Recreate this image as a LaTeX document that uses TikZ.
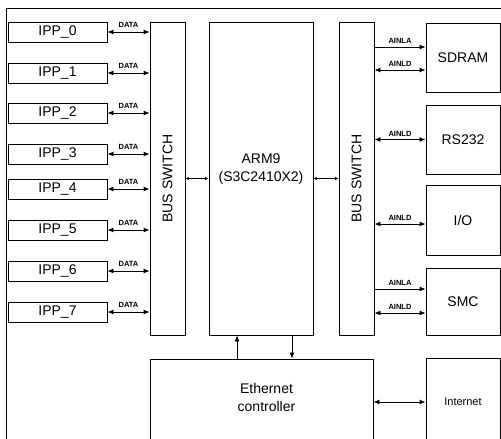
\documentclass[tikz,border=0pt]{standalone}
\usepackage{fontspec}
\setmainfont{Liberation Sans}
\usetikzlibrary{arrows.meta,positioning,calc}

\tikzset{
  blk/.style={draw,line width=0.9pt,inner sep=0pt,font=\fontsize{14}{18}\selectfont},
  txt/.style={inner sep=0pt,align=center,font=\fontsize{14}{18}\selectfont},
  tag/.style={inner sep=1pt,font=\fontsize{7.5}{8}\selectfont\bfseries},
  dbl/.style={{Latex[length=6pt,width=5pt]}-{Latex[length=6pt,width=5pt]},line width=0.9pt},
  one/.style={-{Latex[length=6pt,width=5pt]},line width=0.9pt},
  tiny/.style={{Latex[length=3.5pt,width=3.5pt]}-{Latex[length=3.5pt,width=3.5pt]},line width=0.9pt}
}

\begin{document}
\begin{tikzpicture}[x=1pt,y=-1pt]
  \useasboundingbox (0,0) rectangle (501,439);
  \clip (0,0) rectangle (501,439);
  %% outer frame
  \draw[line width=0.9pt] (6,439) -- (6,8) -- (501,8);
  %% bus switches and core
  \node[blk,rotate=90,minimum width=313pt,minimum height=35pt] (busL) at (167.5,178.5) {BUS SWITCH};
  \node[blk,minimum width=104pt,minimum height=313pt] (arm) at (261,178.5) {};
  \node[txt] (armtxt) at ([yshift=9pt]arm.center) {ARM9\\(S3C2410X2)};
  \node[blk,rotate=90,minimum width=313pt,minimum height=35pt] (busR) at (356.5,178.5) {BUS SWITCH};
  \draw[tiny] (busL.south) -- (arm.west);
  \draw[tiny] (arm.east) -- (busR.north);
  %% IPP row
  \foreach \i/\y in {0/32,1/73,2/113,3/154,4/189,5/230,6/271,7/312}{
    \node[blk,minimum width=99pt,minimum height=20pt] (ipp\i) at (57.5,\y) {IPP\_\i};
    \draw[dbl] (ipp\i.east) -- (ipp\i.east -| busL.north)
      node[tag,midway,above=3.5pt] {DATA};
  }
  %% peripherals
  \node[blk,minimum width=74pt,minimum height=69pt] (sdram) at (463,57.5) {SDRAM};
  \node[blk,minimum width=74pt,minimum height=69pt] (rs) at (463,139.5) {RS232};
  \node[blk,minimum width=74pt,minimum height=70pt] (io) at (463,220) {I/O};
  \node[blk,minimum width=74pt,minimum height=67pt] (smc) at (463,301.5) {SMC};
  \node[blk,minimum width=74pt,minimum height=87pt,font=\fontsize{11}{13}\selectfont] (inet) at (463,401.5) {Internet};
  \node[blk,minimum width=223pt,minimum height=86pt] (eth) at (261.5,402) {};
  \node[txt] (ethtxt) at ([xshift=5pt,yshift=4.5pt]eth.center) {Ethernet\\controller};
  %% bus links
  \foreach \n/\s/\k/\t in {sdram/10.5/one/AINLA, sdram/-12.5/dbl/AINLD, rs/0/dbl/AINLD,
      io/-4/dbl/AINLD, smc/12.5/one/AINLA, smc/-11.5/dbl/AINLD}{
    \coordinate (p) at ([yshift=\s pt]\n.west);
    \draw[\k] (p -| busR.south) -- (p) node[tag,midway,above=2pt] {\t};
  }
  \draw[dbl] (eth.east) -- (eth.east -| inet.west);
  %% ethernet to core
  \coordinate (upx) at ([xshift=-24pt]arm.south);
  \coordinate (dnx) at ([xshift=31pt]arm.south);
  \draw[one] (upx |- eth.north) -- (upx);
  \draw[one] (dnx) -- (dnx |- eth.north);
\end{tikzpicture}
\end{document}
